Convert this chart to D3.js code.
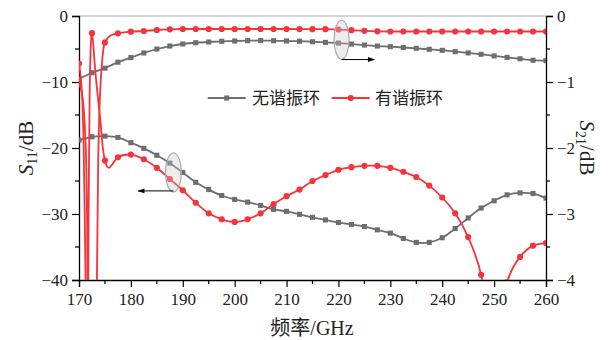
<!DOCTYPE html>
<html><head><meta charset="utf-8">
<script src="https://cdn.jsdelivr.net/npm/d3@7/dist/d3.min.js"></script>
<style>body{margin:0;background:#fff}svg{display:block}</style>
</head><body><svg id="c" width="609" height="340"></svg>
<script>
// ---- data ----
const freqs = [170,172.5,175,177.5,180,182.5,185,187.5,190,192.5,195,197.5,200,202.5,205,207.5,210,212.5,215,217.5,220,222.5,225,227.5,230,232.5,235,237.5,240,242.5,245,247.5,250,252.5,255,257.5,260];
const grayS11 = [-18.8,-18.3,-18.2,-18.4,-19.2,-20.05,-21.1,-22.3,-23.7,-25.2,-26.3,-27.2,-27.8,-28.2,-28.7,-29.3,-29.6,-30.05,-30.5,-30.9,-31.3,-31.6,-31.9,-32.4,-32.9,-33.7,-34.3,-34.3,-33.6,-32.2,-30.6,-29.1,-28.0,-27.1,-26.8,-26.9,-27.6];
const grayS21 = [-0.955,-0.86,-0.79,-0.70,-0.63,-0.56,-0.50,-0.455,-0.424,-0.405,-0.394,-0.383,-0.379,-0.374,-0.372,-0.374,-0.378,-0.382,-0.39,-0.40,-0.41,-0.425,-0.44,-0.455,-0.465,-0.477,-0.49,-0.505,-0.52,-0.54,-0.56,-0.58,-0.605,-0.627,-0.648,-0.67,-0.677];
const redS11 = [-10.2,-2.6,-21.9,-21.4,-21.0,-21.7,-23.0,-24.7,-26.4,-28.3,-29.9,-30.8,-31.2,-30.8,-29.9,-28.5,-27.3,-26.3,-25.0,-24.1,-23.3,-22.9,-22.7,-22.7,-23.0,-23.6,-24.4,-25.7,-27.5,-29.9,-33.5,-39.2,-55,-40.3,-36.5,-34.8,-34.4];
const redS21 = [-0.72,-15,-0.40,-0.262,-0.238,-0.227,-0.212,-0.202,-0.197,-0.197,-0.197,-0.197,-0.197,-0.197,-0.197,-0.197,-0.197,-0.198,-0.2,-0.2,-0.205,-0.215,-0.225,-0.232,-0.235,-0.235,-0.235,-0.235,-0.235,-0.235,-0.235,-0.235,-0.235,-0.235,-0.235,-0.235,-0.235];
// fine (unmarked) points describing the resonance region of the red curves (170–177.5 GHz)
const redS11FineF = [170,170.5,170.9,171.3,171.55,171.7,171.85,172.05,172.25,172.45,172.7,173.0,173.4,173.8,174.2,174.6,175,175.4,175.8,176.5,177.5];
const redS11FineV = [-10.2,-11.5,-14,-20,-30,-55,-30,-12,-5,-2.5,-3.8,-7,-10.5,-13.5,-16.5,-20,-21.9,-22.8,-23.0,-22.4,-21.4];
const redS21FineF = [170,170.3,170.6,170.9,171.2,171.4,171.7,172.5,173.2,173.45,173.7,174.0,174.4,175,176,177.5];
const redS21FineV = [-0.72,-0.9,-1.2,-2.0,-3.6,-5,-8,-15,-8,-4.0,-2.2,-1.3,-0.75,-0.40,-0.30,-0.262];
const xTicks = [170,180,190,200,210,220,230,240,250,260];
const yLeftTicks = [0,-10,-20,-30,-40];
const yRightTicks = [0,-1,-2,-3,-4];
const legendNames = ["无谐振环","有谐振环"];
const colors = {gray:"#6e6e6e", red:"#f5333a"};

// ---- layout ----
const m = {l:79, r:546, t:16, b:280};
const svg = d3.select("#c");
const x = d3.scaleLinear().domain([170,260]).range([m.l,m.r]);
const yL = d3.scaleLinear().domain([-40,0]).range([m.b,m.t]);
const yR = d3.scaleLinear().domain([-4,0]).range([m.b,m.t]);
const serif = "'Liberation Serif','Times New Roman',serif";
const cjk = "'Noto Sans CJK SC','Noto Sans CJK JP',sans-serif";

const defs = svg.append("defs");
defs.append("clipPath").attr("id","clip").append("rect")
  .attr("x",m.l).attr("y",m.t).attr("width",m.r-m.l).attr("height",m.b-m.t);
defs.append("marker").attr("id","arr").attr("viewBox","0 0 10 10")
  .attr("refX",9).attr("refY",5).attr("markerWidth",9).attr("markerHeight",7).attr("orient","auto")
  .append("path").attr("d","M0,1.5L10,5L0,8.5z").attr("fill","#000");

// top frame line
svg.append("line").attr("x1",m.l).attr("x2",m.r).attr("y1",m.t).attr("y2",m.t)
  .attr("stroke","#aaa").attr("stroke-width",1);

function styleAxis(g){
  g.select(".domain").attr("stroke","#000").attr("stroke-width",1.3);
  g.selectAll(".tick line").attr("stroke","#000").attr("stroke-width",1.2);
  g.selectAll(".tick text").attr("font-family",serif).attr("font-size",17).attr("fill","#222");
}
const minorX = d3.range(175,260,10);
const gx = svg.append("g").attr("transform",`translate(0,${m.b})`)
  .call(d3.axisBottom(x).tickValues(xTicks).tickSize(7).tickPadding(6).tickFormat(d3.format("d")));
styleAxis(gx);
gx.selectAll(".minor").data(minorX).enter().append("line")
  .attr("x1",d=>x(d)).attr("x2",d=>x(d)).attr("y1",0).attr("y2",4).attr("stroke","#000").attr("stroke-width",1.2);

const fmtMinus = d => d < 0 ? "−" + Math.abs(d) : String(d);
const gl = svg.append("g").attr("transform",`translate(${m.l},0)`)
  .call(d3.axisLeft(yL).tickValues(yLeftTicks).tickSize(7).tickPadding(4).tickFormat(fmtMinus));
styleAxis(gl);
gl.selectAll(".minor").data([-5,-15,-25,-35]).enter().append("line")
  .attr("y1",d=>yL(d)).attr("y2",d=>yL(d)).attr("x1",0).attr("x2",-4).attr("stroke","#000").attr("stroke-width",1.2);

const gr = svg.append("g").attr("transform",`translate(${m.r},0)`)
  .call(d3.axisRight(yR).tickValues(yRightTicks).tickSize(7).tickPadding(4).tickFormat(fmtMinus));
styleAxis(gr);
gr.selectAll(".minor").data([-0.5,-1.5,-2.5,-3.5]).enter().append("line")
  .attr("y1",d=>yR(d)).attr("y2",d=>yR(d)).attr("x1",0).attr("x2",4).attr("stroke","#000").attr("stroke-width",1.2);

// ---- curves ----
const plot = svg.append("g").attr("clip-path","url(#clip)");
function curve(fs, vs, yS, col){
  const pts = fs.map((f,i)=>[f,vs[i]]);
  const line = d3.line().x(d=>x(d[0])).y(d=>yS(Math.max(d[1],-80))).curve(d3.curveCatmullRom.alpha(0.5));
  plot.append("path").datum(pts).attr("d",line).attr("fill","none").attr("stroke",col).attr("stroke-width",1.8);
}
function markers(vs, yS, col, shape){
  const pts = freqs.map((f,i)=>[f,vs[i]]).filter(d=>yS(d[1])<=m.b+4);
  const sym = d3.symbol().type(shape==="sq"?d3.symbolSquare:d3.symbolCircle).size(shape==="sq"?26:30);
  plot.selectAll(null).data(pts).enter().append("path").attr("d",sym)
    .attr("transform",d=>`translate(${x(d[0])},${yS(d[1])})`).attr("fill",col);
}
curve(freqs, grayS11, yL, colors.gray); markers(grayS11, yL, colors.gray, "sq");
curve(freqs, grayS21, yR, colors.gray); markers(grayS21, yR, colors.gray, "sq");
const rS11F = redS11FineF.concat(freqs.filter(f=>f>177.5));
const rS11V = redS11FineV.concat(redS11.filter((v,i)=>freqs[i]>177.5));
curve(rS11F, rS11V, yL, colors.red); markers(redS11, yL, colors.red, "ci");
const rS21F = redS21FineF.concat(freqs.filter(f=>f>177.5));
const rS21V = redS21FineV.concat(redS21.filter((v,i)=>freqs[i]>177.5));
curve(rS21F, rS21V, yR, colors.red); markers(redS21, yR, colors.red, "ci");

// ---- annotations ----
svg.append("ellipse").attr("cx",x(220.6)).attr("cy",yR(-0.36)).attr("rx",7.5).attr("ry",19.5)
  .attr("fill","rgba(200,200,200,0.35)").attr("stroke","#aaa").attr("stroke-width",1.2);
svg.append("line").attr("x1",x(220.6)).attr("x2",x(226.9)).attr("y1",yR(-0.66)).attr("y2",yR(-0.66))
  .attr("stroke","#000").attr("stroke-width",1).attr("marker-end","url(#arr)");
svg.append("ellipse").attr("cx",x(188.2)).attr("cy",yL(-23.7)).attr("rx",8).attr("ry",19.5)
  .attr("fill","rgba(200,200,200,0.35)").attr("stroke","#aaa").attr("stroke-width",1.2);
svg.append("line").attr("x1",x(188.2)).attr("x2",x(181.4)).attr("y1",yL(-26.5)).attr("y2",yL(-26.5))
  .attr("stroke","#000").attr("stroke-width",1).attr("marker-end","url(#arr)");

// ---- legend ----
const lg = svg.append("g");
[[207.7,colors.gray,"sq",252],[331.7,colors.red,"ci",375]].forEach((d,i)=>{
  lg.append("line").attr("x1",d[0]).attr("x2",d[0]+38).attr("y1",98).attr("y2",98).attr("stroke",d[1]).attr("stroke-width",1.8);
  lg.append("path").attr("d",d3.symbol().type(d[2]==="sq"?d3.symbolSquare:d3.symbolCircle).size(d[2]==="sq"?26:30))
    .attr("transform",`translate(${d[0]+19},98)`).attr("fill",d[1]);
  lg.append("text").attr("x",d[3]).attr("y",104).attr("font-family",cjk).attr("font-size",17).attr("fill","#222").text(legendNames[i]);
});

// ---- axis titles ----
const t1 = svg.append("text").attr("transform","translate(33,148) rotate(-90)").attr("text-anchor","middle")
  .attr("font-family",serif).attr("font-size",21).attr("fill","#222");
t1.append("tspan").attr("font-style","italic").text("S");
t1.append("tspan").attr("font-size",14).attr("dy",4).text("11");
t1.append("tspan").attr("dy",-4).text("/dB");
const t2 = svg.append("text").attr("transform","translate(580,148) rotate(90)").attr("text-anchor","middle")
  .attr("font-family",serif).attr("font-size",21).attr("fill","#222");
t2.append("tspan").attr("font-style","italic").text("S");
t2.append("tspan").attr("font-size",14).attr("dy",4).text("21");
t2.append("tspan").attr("dy",-4).text("/dB");
const t3 = svg.append("text").attr("x",312).attr("y",335).attr("text-anchor","middle")
  .attr("font-size",20).attr("fill","#222");
t3.append("tspan").attr("font-family",cjk).text("频率");
t3.append("tspan").attr("font-family",serif).text("/GHz");
</script></body></html>
